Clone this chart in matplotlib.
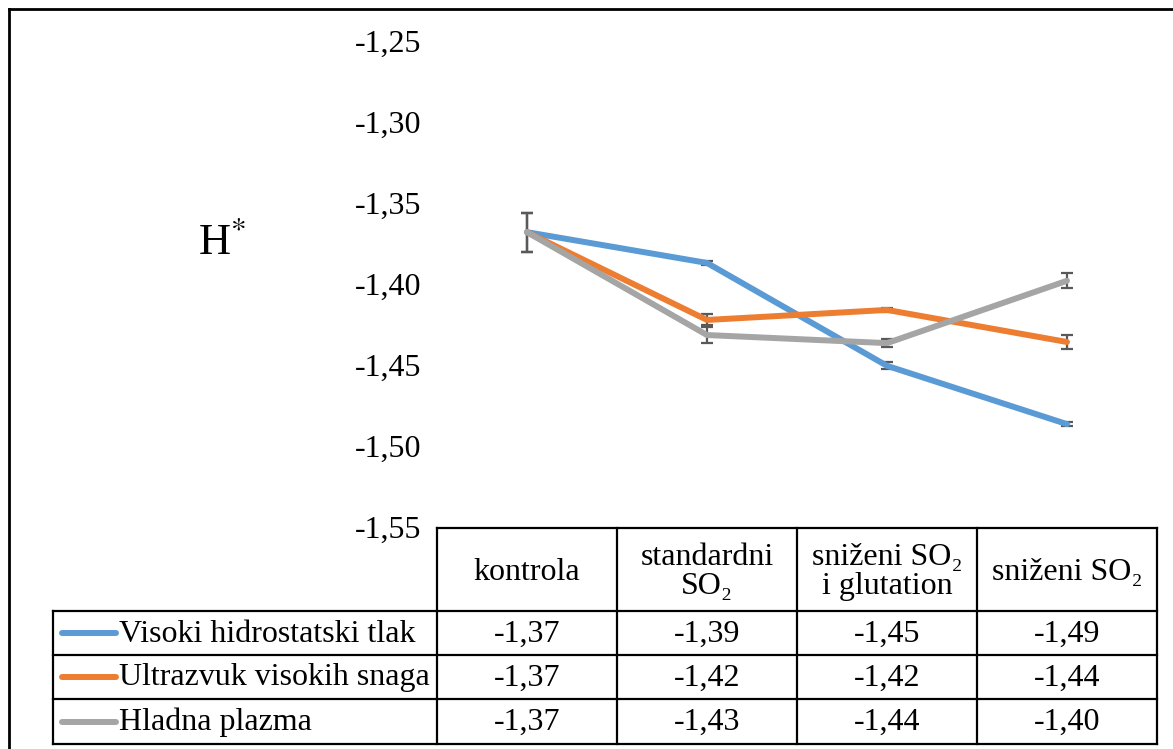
import matplotlib.pyplot as plt
from matplotlib.ticker import FuncFormatter

categories = ['kontrola', 'standardni\nSO\u2082', 'sni\u017eeni SO\u2082\ni glutation', 'sni\u017eeni SO\u2082']
series = ['Visoki hidrostatski tlak', 'Ultrazvuk visokih snaga', 'Hladna plazma']

visoki = [-1.368, -1.387, -1.4505, -1.4865]
ultrazvuk = [-1.368, -1.4222, -1.416, -1.4358]
plazma = [-1.368, -1.4315, -1.4365, -1.398]

visoki_err = [0.012, 0.0012, 0.0022, 0.0012]
ultrazvuk_err = [0.012, 0.0034, 0.0012, 0.0043]
plazma_err = [0.012, 0.0052, 0.0025, 0.0046]

colors = ['#5B9BD5', '#ED7D31', '#A5A5A5']
values = [visoki, ultrazvuk, plazma]
errors = [visoki_err, ultrazvuk_err, plazma_err]

plt.rcParams['font.family'] = ['Liberation Serif', 'DejaVu Serif']

W, H = 1173, 749
fig = plt.figure(figsize=(W / 100, H / 100), dpi=100)

# pixel helpers
def fx(px):
    return px / W

def fy(py):
    return 1 - py / H

left, right, top, bottom = 437, 1157, 41, 527
ax = fig.add_axes([fx(left), fy(bottom), fx(right - left), (bottom - top) / H])

x = range(len(categories))
for v, e, c in zip(values, errors, colors):
    ax.errorbar(x, v, yerr=e, fmt='none', ecolor='#595959', elinewidth=1.6,
                capsize=4.3, capthick=1.6, zorder=2)
    ax.plot(x, v, color=c, lw=4.3, solid_capstyle='round', solid_joinstyle='round', zorder=3)

ax.set_xlim(-0.5, len(categories) - 0.5)
ax.set_ylim(-1.55, -1.25)
ax.set_yticks([-1.55, -1.50, -1.45, -1.40, -1.35, -1.30, -1.25])
ax.yaxis.set_major_formatter(FuncFormatter(lambda v, p: f'{v:.2f}'.replace('.', ',')))
ax.tick_params(axis='y', length=0, labelsize=23, pad=11)
ax.set_xticks([])
for s in ax.spines.values():
    s.set_visible(False)

fig.text(fx(198), fy(242), 'H$^{*}$', fontsize=32, ha='left', va='center',
         math_fontfamily='stix')

# overlay for table and border, in pixel coordinates
ov = fig.add_axes([0, 0, 1, 1])
ov.set_xlim(0, W)
ov.set_ylim(H, 0)
ov.axis('off')
ov.patch.set_alpha(0)

lw = 1.6
ov.plot([9, 9], [9, H], color='black', lw=2)
ov.plot([9, W], [9, 9], color='black', lw=2)

col_w = (right - left) / len(categories)
row_y = [611, 655, 699, 744]
lab_left = 53

# header row
ov.plot([left, right], [bottom + 1, bottom + 1], color='black', lw=lw)
for i in range(len(categories) + 1):
    ov.plot([left + i * col_w] * 2, [bottom + 1, row_y[-1]], color='black', lw=lw)
for i, cat in enumerate(categories):
    ov.text(left + (i + 0.5) * col_w, (bottom + row_y[0]) / 2 + 3, cat, fontsize=23,
            ha='center', va='center', linespacing=1.0)

# data rows
ov.plot([lab_left, lab_left], [row_y[0], row_y[-1]], color='black', lw=lw)
for yy in row_y:
    ov.plot([lab_left, right], [yy, yy], color='black', lw=lw)
for r, (name, v, c) in enumerate(zip(series, values, colors)):
    yc = (row_y[r] + row_y[r + 1]) / 2
    ov.plot([62, 116], [yc, yc], color=c, lw=4.3, solid_capstyle='round')
    ov.text(119, yc + 1, name, fontsize=23, ha='left', va='center')
    for i, val in enumerate(v):
        ov.text(left + (i + 0.5) * col_w, yc + 1, f'{val:.2f}'.replace('.', ','),
                fontsize=23, ha='center', va='center')

fig.savefig('out.png', dpi=100)
